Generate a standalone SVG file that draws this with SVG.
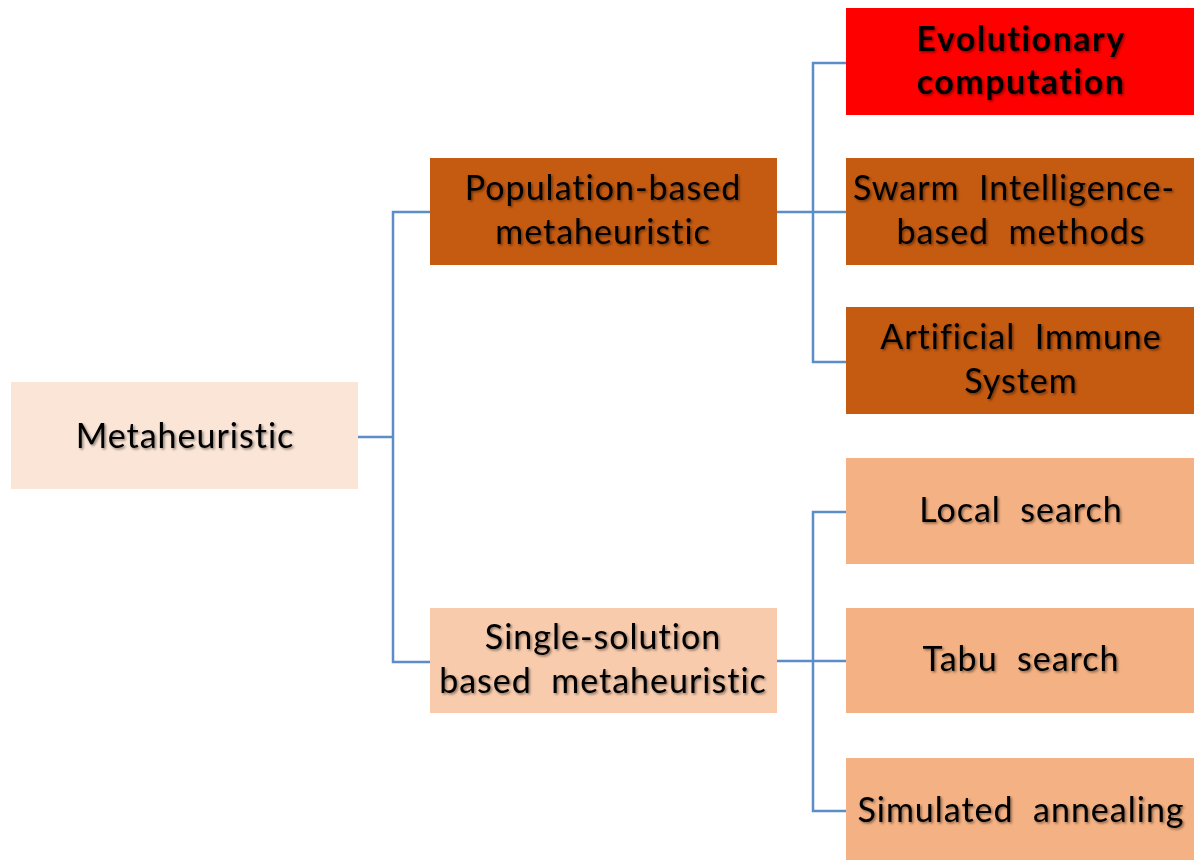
<svg xmlns="http://www.w3.org/2000/svg" width="1194" height="860" viewBox="0 0 1194 860">
  <defs>
    <filter id="shadow" x="-10%" y="-30%" width="120%" height="160%">
      <feDropShadow dx="1.5" dy="1.5" stdDeviation="1" flood-color="#000" flood-opacity="0.45"/>
    </filter>
  </defs>
  <style>
    .lbl { font-family: Lato, "Open Sans", "Liberation Sans", sans-serif; font-size: 34px; letter-spacing: 1px; fill: #000; text-anchor: middle; white-space: pre; filter: url(#shadow); }
    .bold { font-weight: bold; letter-spacing: 1.5px; }
    .root { fill: #FBE5D6; }
    .dark { fill: #C55A11; }
    .light { fill: #F8CBAD; }
    .mid { fill: #F4B183; }
    .red { fill: #FF0000; }
    .wire { fill: none; stroke: #5B8DC8; stroke-width: 2.5; }
  </style>
  <rect width="1194" height="860" fill="#fff"/>

  <g id="connectors">
    <path class="wire" d="M358 437 H393" stroke-width="3"/>
    <path class="wire" d="M430 212 H393 V662 H430"/>
    <path class="wire" d="M777 212 H846"/>
    <path class="wire" d="M846 63 H813 V362 H846"/>
    <path class="wire" d="M777 661 H846" stroke-width="3"/>
    <path class="wire" d="M846 512 H813 V811 H846"/>
  </g>

  <g id="metaheuristic">
    <rect class="root" x="11" y="382" width="347" height="107"/>
    <text class="lbl" x="185" y="448">Metaheuristic</text>
  </g>

  <g id="population">
    <rect class="dark" x="430" y="158" width="347" height="107"/>
    <text class="lbl" x="603" y="200">Population-based</text>
    <text class="lbl" x="603" y="244">metaheuristic</text>
  </g>

  <g id="single">
    <rect class="light" x="430" y="608" width="347" height="105"/>
    <text class="lbl" x="603" y="649">Single-solution</text>
    <text class="lbl" x="603" y="693">based  metaheuristic</text>
  </g>

  <g id="evolutionary">
    <rect class="red" x="846" y="8" width="348" height="107"/>
    <text class="lbl bold" x="1021" y="51">Evolutionary</text>
    <text class="lbl bold" x="1021" y="94">computation</text>
  </g>

  <g id="swarm">
    <rect class="dark" x="846" y="158" width="348" height="107"/>
    <text class="lbl" x="1014" y="200">Swarm  Intelligence-</text>
    <text class="lbl" x="1021" y="244">based  methods</text>
  </g>

  <g id="immune">
    <rect class="dark" x="846" y="307" width="348" height="107"/>
    <text class="lbl" x="1021" y="349">Artificial  Immune</text>
    <text class="lbl" x="1021" y="393">System</text>
  </g>

  <g id="local">
    <rect class="mid" x="846" y="458" width="348" height="106"/>
    <text class="lbl" x="1021" y="522">Local  search</text>
  </g>

  <g id="tabu">
    <rect class="mid" x="846" y="608" width="348" height="105"/>
    <text class="lbl" x="1021" y="671">Tabu  search</text>
  </g>

  <g id="annealing">
    <rect class="mid" x="846" y="758" width="348" height="102"/>
    <text class="lbl" x="1021" y="822">Simulated  annealing</text>
  </g>
</svg>
